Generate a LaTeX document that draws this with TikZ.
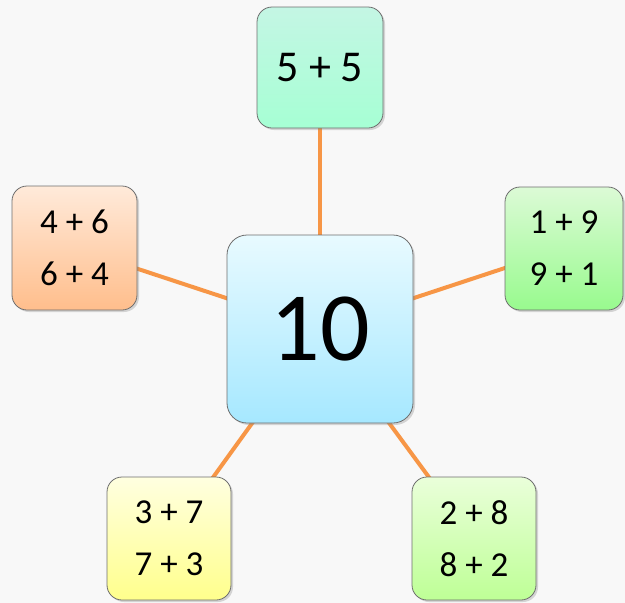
\documentclass[tikz,border=0pt]{standalone}
\usepackage{fontspec}
\setmainfont{Carlito}
\usetikzlibrary{shadows}
\definecolor{bgcol}{HTML}{F8F8F8}
\definecolor{linkcol}{HTML}{F79646}
\definecolor{rimcol}{HTML}{6E6E6E}
\begin{document}
\begin{tikzpicture}[x=1pt,y=-1pt,
  box/.style={draw=rimcol,line width=.8pt,rounded corners=15pt,align=center,
    drop shadow={shadow xshift=2pt,shadow yshift=-2pt,opacity=.3},
    font=\fontsize{35}{52}\selectfont,inner sep=0pt},
  link/.style={draw=linkcol,line width=4pt}]
% background
\fill[bgcol] (0,0) rectangle (625,603);
\useasboundingbox (0,0) rectangle (625,603);
% links first, so boxes cover them
\coordinate (pc) at (320,329);
\coordinate (pt) at (320,67.5);
\coordinate (pl) at (74.5,248);
\coordinate (pr) at (564,248.5);
\coordinate (pbl) at (169,538.5);
\coordinate (pbr) at (474,538.5);
\foreach \p in {pt,pl,pr,pbl,pbr} \draw[link] (pc) -- (\p);
\node[box,top color={rgb,255:red,232;green,250;blue,255},bottom color={rgb,255:red,166;green,232;blue,255},
  rounded corners=20pt,minimum width=186pt,minimum height=188pt,
  font=\fontsize{98}{100}\selectfont] (ten) at (pc) {10};
\node[box,top color={rgb,255:red,196;green,246;blue,228},bottom color={rgb,255:red,166;green,255;blue,212},
  minimum width=126pt,minimum height=121pt,font=\fontsize{44}{52}\selectfont] (fivefive) at (pt) {5 + 5};
\node[box,top color={rgb,255:red,255;green,234;blue,218},bottom color={rgb,255:red,255;green,190;blue,140},
  minimum width=125pt,minimum height=124pt] (fourix) at (pl) {4 + 6\\6 + 4};
\node[box,top color={rgb,255:red,220;green,250;blue,214},bottom color={rgb,255:red,152;green,250;blue,142},
  minimum width=118pt,minimum height=123pt] (oneine) at (pr) {1 + 9\\9 + 1};
\node[box,top color={rgb,255:red,255;green,255;blue,224},bottom color={rgb,255:red,255;green,255;blue,140},
  minimum width=124pt,minimum height=123pt] (threeven) at (pbl) {3 + 7\\7 + 3};
\node[box,top color={rgb,255:red,234;green,255;blue,218},bottom color={rgb,255:red,190;green,255;blue,150},
  minimum width=124pt,minimum height=123pt] (twoeight) at (pbr) {2 + 8\\8 + 2};
\end{tikzpicture}
\end{document}
